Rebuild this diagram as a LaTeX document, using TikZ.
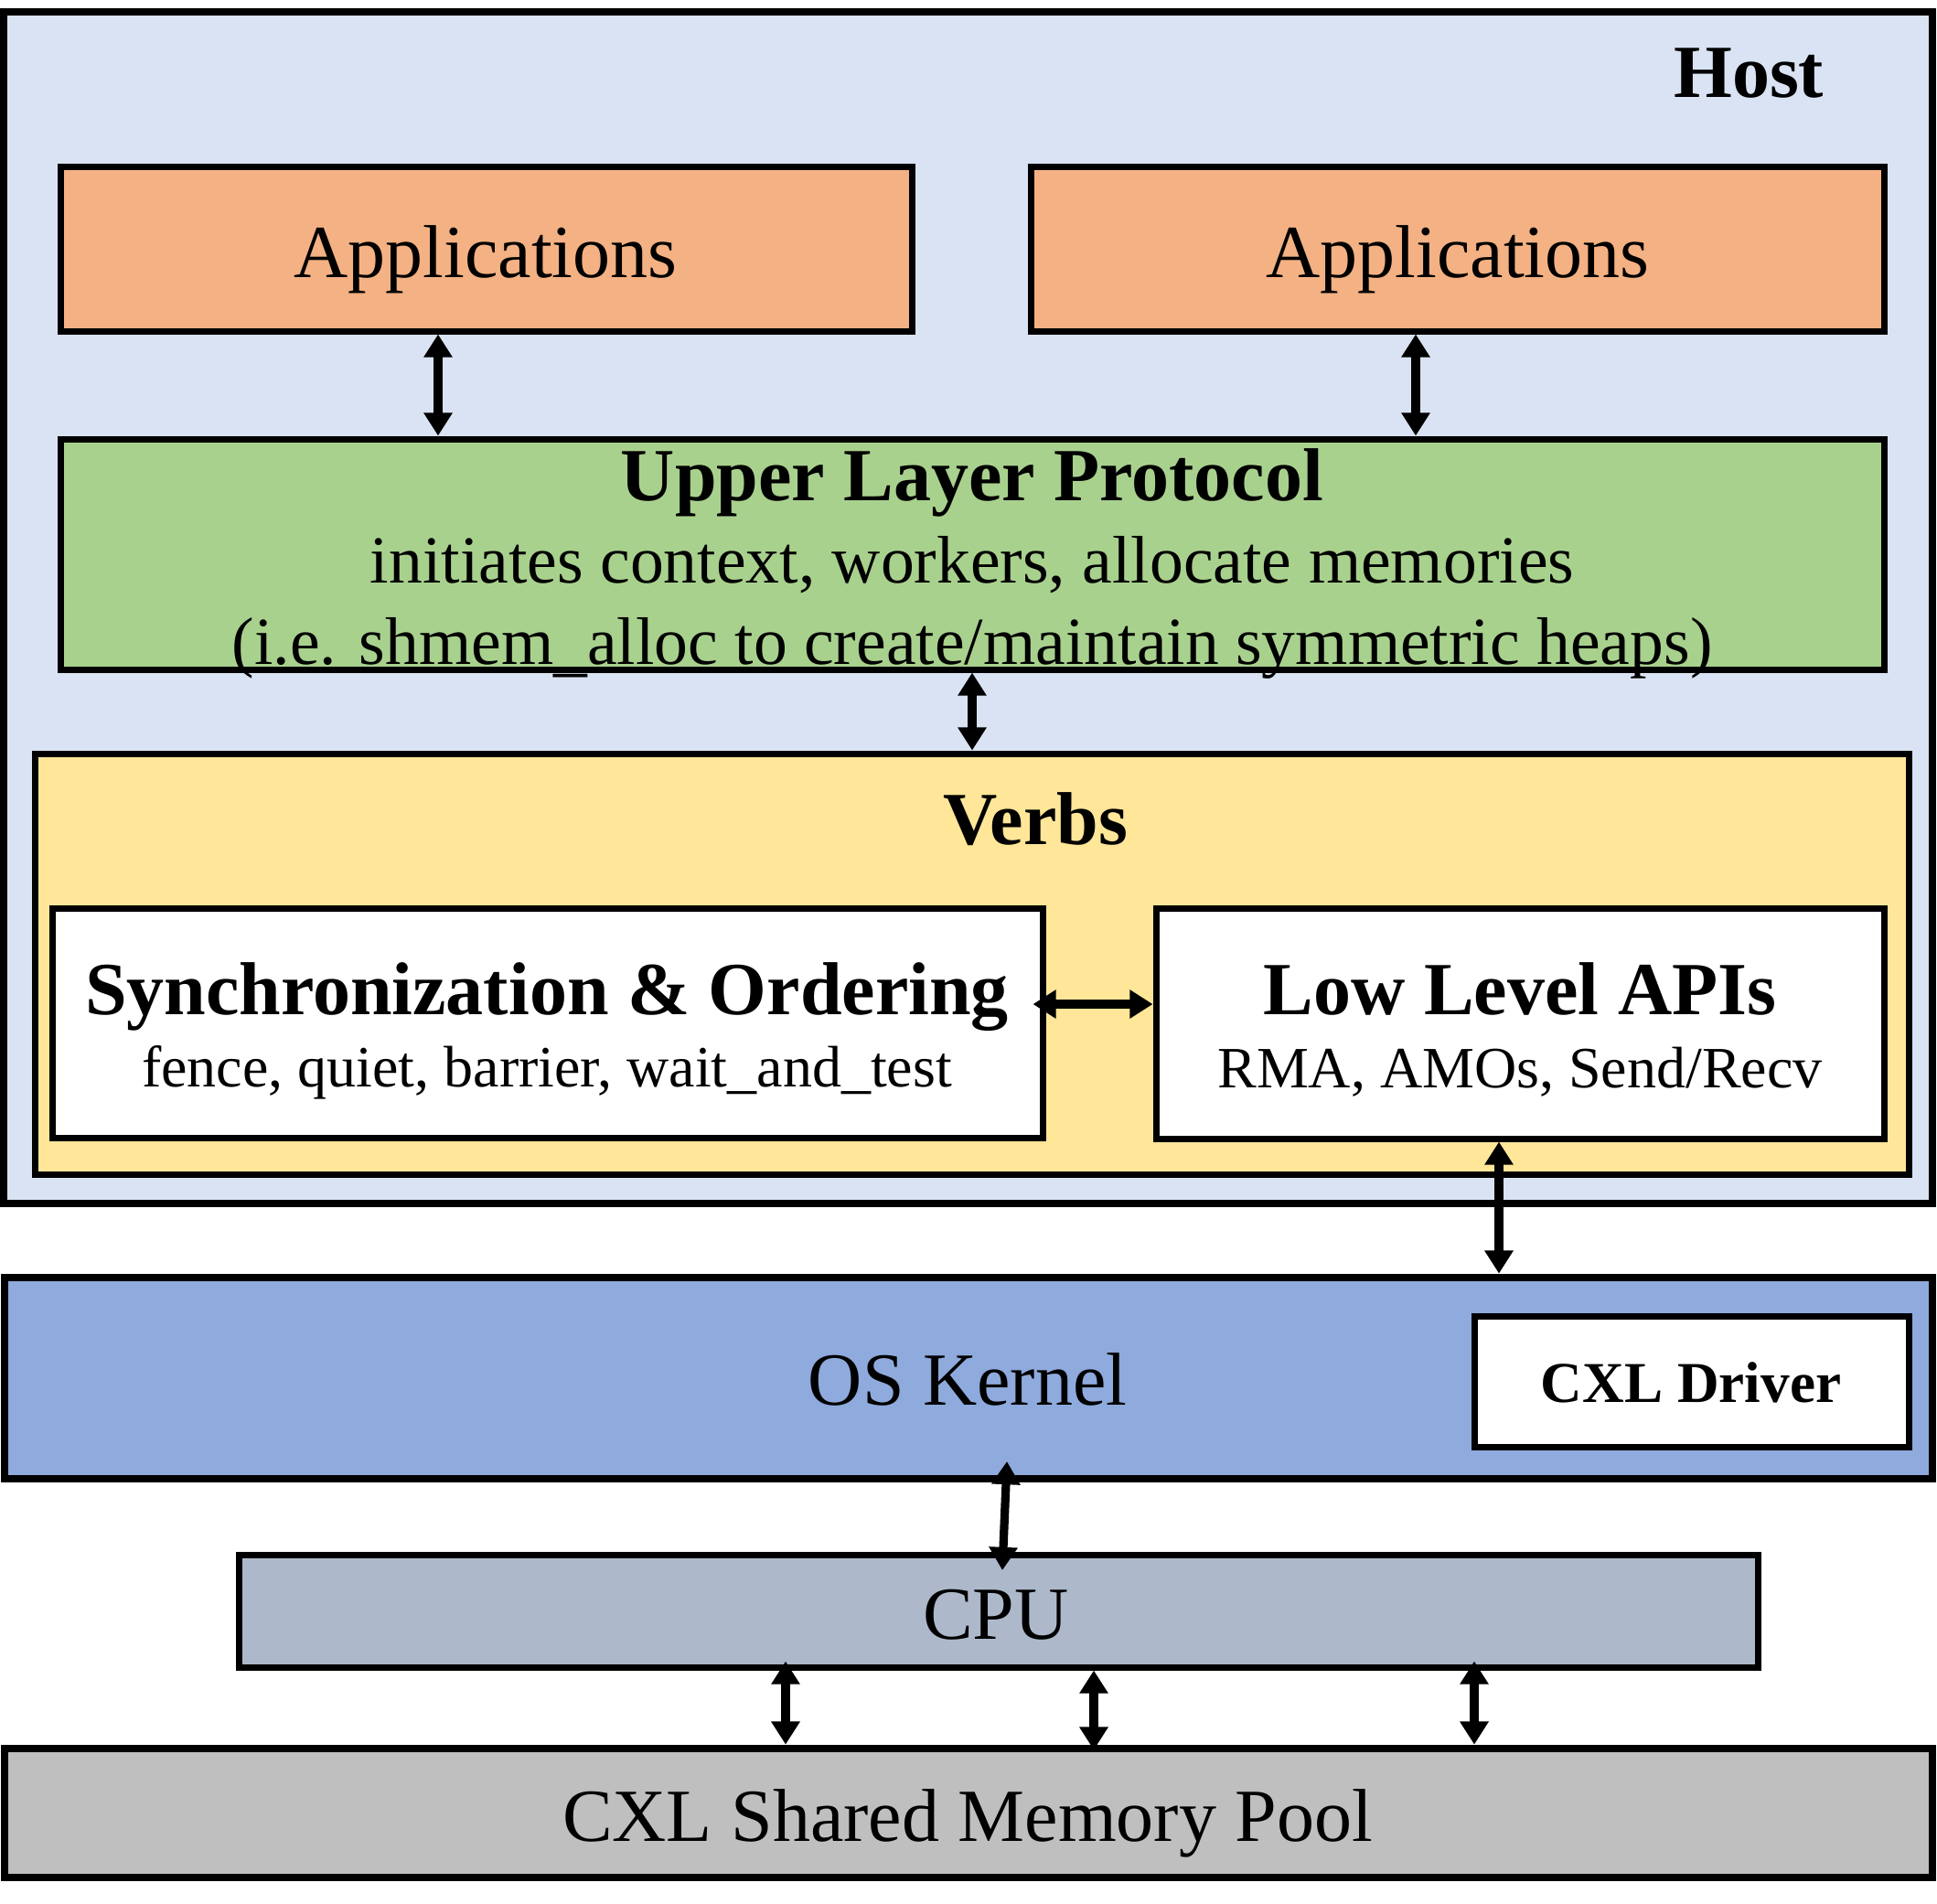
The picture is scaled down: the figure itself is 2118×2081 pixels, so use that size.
\documentclass[tikz,border=0pt]{standalone}
\usepackage{fontspec}
\setmainfont{Liberation Serif}
\usetikzlibrary{arrows.meta,calc}
\definecolor{hostc}{HTML}{DAE3F3}
\definecolor{appc}{HTML}{F4B183}
\definecolor{ulpc}{HTML}{A9D18E}
\definecolor{verbc}{HTML}{FFE699}
\definecolor{osc}{HTML}{8FAADC}
\definecolor{cpuc}{HTML}{ADB9CA}
\definecolor{poolc}{HTML}{BFBFBF}
\newcommand\drawbox[6]{%
  \pgfmathsetmacro\mybw{(#4-#2)*0.25}%
  \pgfmathsetmacro\mybh{(#5-#3)*0.25}%
  \node[#6, minimum width=\mybw pt, minimum height=\mybh pt] (#1) at ({(#2+#4)/2},{(#3+#5)/2}) {};}
\newcommand\lowus{\raisebox{-0.075em}{\_}}
\tikzset{
  box/.style={draw, line width=1.75pt, rectangle, inner sep=0pt},
  thickbox/.style={box, line width=2.2pt},
  txtL/.style={anchor=base, inner sep=0pt, font=\fontsize{20.5pt}{24pt}\selectfont},
  txtLb/.style={anchor=base, inner sep=0pt, font=\fontsize{20.5pt}{24pt}\selectfont\bfseries},
  txtM/.style={anchor=base, inner sep=0pt, font=\fontsize{18.4pt}{22pt}\selectfont},
  txtS/.style={anchor=base, inner sep=0pt, font=\fontsize{16pt}{19pt}\selectfont},
  txtSb/.style={anchor=base, inner sep=0pt, font=\fontsize{15.8pt}{19pt}\selectfont\bfseries},
  dar/.style={line width=2.3pt, {Triangle[width=7.5pt,length=6.3pt]}-{Triangle[width=7.5pt,length=6.3pt]}},
}
\begin{document}
\begin{tikzpicture}[x=0.25pt,y=-0.25pt]
\useasboundingbox (0,0) rectangle (2118,2081);
% boxes
\drawbox{host}{4}{13}{2113}{1316}{thickbox, fill=hostc}
\drawbox{appL}{66}{182}{997}{362}{box, fill=appc}
\drawbox{appR}{1127}{182}{2060}{362}{box, fill=appc}
\drawbox{ulp}{66}{480}{2060}{732}{box, fill=ulpc}
\drawbox{verbs}{38}{824}{2087}{1284}{box, fill=verbc}
\drawbox{sync}{57}{993}{1140}{1244}{box, fill=white}
\drawbox{low}{1264}{993}{2060}{1245}{box, fill=white}
\drawbox{os}{5}{1397}{2113}{1617}{thickbox, fill=osc}
\drawbox{drv}{1612}{1439}{2087}{1582}{box, fill=white}
\drawbox{cpu}{261}{1700}{1922}{1823}{box, fill=cpuc}
\drawbox{pool}{5}{1912}{2113}{2053}{thickbox, fill=poolc}
% texts
\node[txtLb, anchor=base east] (thost) at (1995,106) {Host};
\node[txtL] (tappL) at (531,303) {Applications};
\node[txtL] (tappR) at (1594,303) {Applications};
\node[txtLb] (tulp1) at (1063,547) {Upper Layer Protocol};
\node[txtM] (tulp2) at (1063,637) {initiates context, workers, allocate memories};
\node[txtM] (tulp3) at (1063,726) {(i.e. shmem\lowus alloc to create/maintain symmetric heaps)};
\node[txtLb] (tverbs) at (1132,923) {Verbs};
\node[txtLb] (tsync1) at (598,1109) {Synchronization \& Ordering};
\node[txtS] (tsync2) at (598,1188) {fence, quiet, barrier, wait\_and\_test};
\node[txtLb] (tlow1) at (1662,1109) {Low Level APIs};
\node[txtS] (tlow2) at (1662,1189) {RMA, AMOs, Send/Recv};
\node[txtL] (tos) at (1058,1536) {OS Kernel};
\node[txtSb] (tdrv) at (1849,1533) {CXL Driver};
\node[txtL] (tcpu) at (1089,1792) {CPU};
\node[txtL] (tpool) at (1058,2013) {CXL Shared Memory Pool};
% connector positions
\coordinate (xa) at (479,0);
\coordinate (xb) at (1548,0);
\coordinate (xc) at (1063,0);
\coordinate (xd) at (1639,0);
\coordinate (ya) at (0,1098);
\coordinate (osA) at (1101,1598);
\coordinate (cpuA) at (1096,1717);
\coordinate (x1) at (859,0);
\coordinate (x2) at (1196,0);
\coordinate (x3) at (1612,0);
% connectors
\draw[dar] (appL.south -| xa) -- (ulp.north -| xa);
\draw[dar] (appR.south -| xb) -- (ulp.north -| xb);
\draw[dar] (ulp.south -| xc) -- (verbs.north -| xc);
\draw[dar] ([xshift=-3.5pt]sync.east |- ya) -- (low.west |- ya);
\draw[dar] (low.south -| xd) -- (os.north -| xd);
\draw[dar] (osA) -- (cpuA);
\draw[dar] ([yshift=2.5pt]cpu.south -| x1) -- (pool.north -| x1);
\draw[dar] (cpu.south -| x2) -- ([yshift=-1.5pt]pool.north -| x2);
\draw[dar] ([yshift=2.5pt]cpu.south -| x3) -- (pool.north -| x3);
\end{tikzpicture}
\end{document}
